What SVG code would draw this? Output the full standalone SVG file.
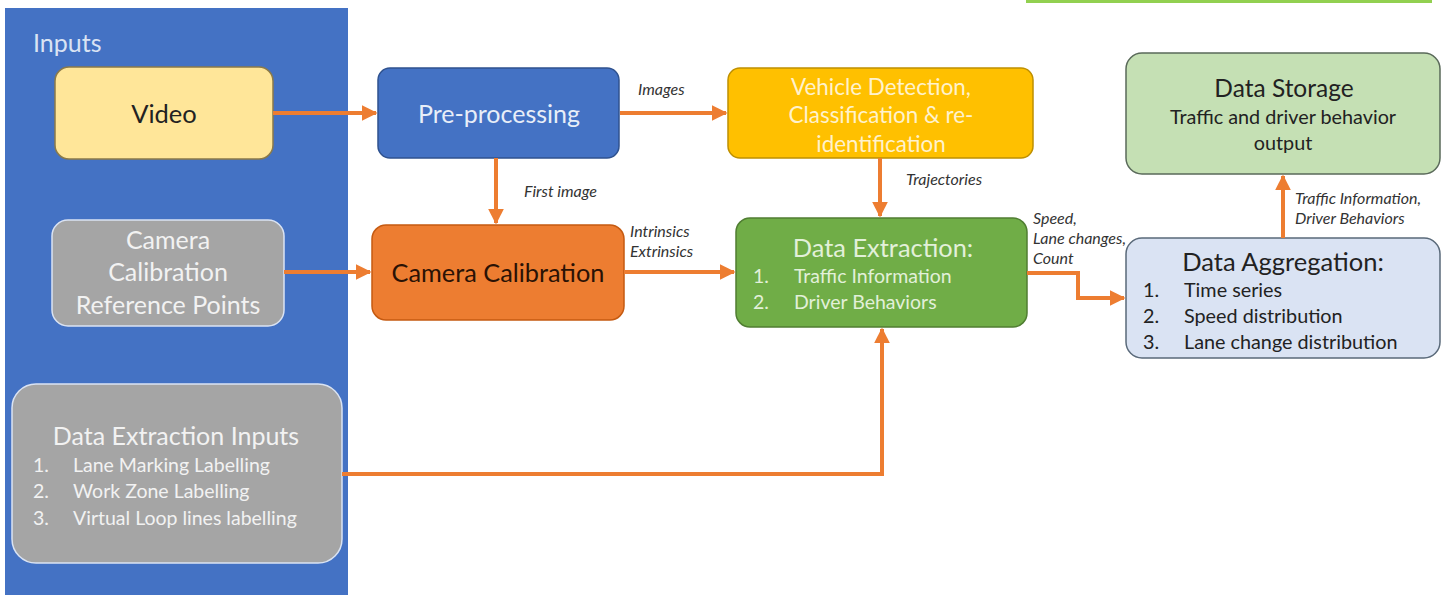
<svg xmlns="http://www.w3.org/2000/svg" width="1444" height="595" viewBox="0 0 1444 595">
<style>
text{font-family:Lato,"Liberation Sans",sans-serif}
.box{stroke-width:1.5}
.lbl{font-style:italic;font-size:16px;fill:#333}
.conn{stroke:#ed7d31;stroke-width:4;fill:none}
</style>
<defs>
<marker id="ah" viewBox="0 0 10 10" refX="9" refY="5" markerWidth="4" markerHeight="4" orient="auto" markerUnits="strokeWidth">
<path d="M0,0 L10,5 L0,10 z" fill="#ed7d31"/>
</marker>
</defs>
<rect width="1444" height="595" fill="#ffffff"/>
<rect x="1026" y="0" width="406" height="3" fill="#92d050"/>
<g id="inputs-panel">
<rect x="5" y="8" width="343" height="590" fill="#4472c4"/>
<text x="33" y="52" font-size="25" fill="#dae3f3">Inputs</text>
</g>
<g id="video">
<rect class="box" x="55" y="67" width="218" height="92" rx="14" fill="#ffe699" stroke="#8a7a4a"/>
<text x="164" y="123" font-size="25.5" fill="#222" text-anchor="middle">Video</text>
</g>
<g id="cam-ref">
<rect class="box" x="52" y="220" width="232" height="106" rx="16" fill="#a5a5a5" stroke="#dae3f3"/>
<text x="168" y="249" font-size="25" fill="#f2f2f2" text-anchor="middle">Camera</text>
<text x="168" y="281" font-size="25" fill="#f2f2f2" text-anchor="middle">Calibration</text>
<text x="168" y="314" font-size="25" fill="#f2f2f2" text-anchor="middle">Reference Points</text>
</g>
<g id="de-inputs">
<rect class="box" x="12" y="384" width="330" height="179" rx="24" fill="#a5a5a5" stroke="#dae3f3"/>
<text x="176" y="445" font-size="25" fill="#f2f2f2" text-anchor="middle">Data Extraction Inputs</text>
<g font-size="19.5" fill="#f2f2f2">
<text x="33" y="472">1.</text><text x="73" y="472">Lane Marking Labelling</text>
<text x="33" y="498">2.</text><text x="73" y="498">Work Zone Labelling</text>
<text x="33" y="525">3.</text><text x="73" y="525">Virtual Loop lines labelling</text>
</g>
</g>
<g id="preprocessing">
<rect class="box" x="378" y="68" width="241" height="90" rx="12" fill="#4472c4" stroke="#2f528f"/>
<text x="499" y="123" font-size="25" fill="#e8eef8" text-anchor="middle">Pre-processing</text>
</g>
<g id="camera-calibration">
<rect class="box" x="372" y="225" width="252" height="95" rx="14" fill="#ed7d31" stroke="#c55a11"/>
<text x="498" y="282" font-size="25.3" fill="#2a1205" text-anchor="middle">Camera Calibration</text>
</g>
<g id="vehicle-detection">
<rect class="box" x="728" y="68" width="305" height="90" rx="12" fill="#ffc000" stroke="#bf9000"/>
<g font-size="22.4" fill="#fff2cc" text-anchor="middle">
<text x="881" y="95">Vehicle Detection,</text>
<text x="881" y="123">Classification &amp; re-</text>
<text x="881" y="152">identification</text>
</g>
</g>
<g id="data-extraction">
<rect class="box" x="736" y="218" width="291" height="109" rx="14" fill="#70ad47" stroke="#507e32"/>
<text x="883" y="257" font-size="25.4" fill="#e2f0d9" text-anchor="middle">Data Extraction:</text>
<g font-size="19.5" fill="#e2f0d9">
<text x="753" y="283">1.</text><text x="794" y="283">Traffic Information</text>
<text x="753" y="309">2.</text><text x="794" y="309">Driver Behaviors</text>
</g>
</g>
<g id="data-storage">
<rect class="box" x="1126" y="53" width="314" height="121" rx="16" fill="#c5e0b4" stroke="#5a6a5a"/>
<text x="1284" y="97" font-size="24.5" fill="#222" text-anchor="middle">Data Storage</text>
<text x="1283" y="124" font-size="19.8" fill="#222" text-anchor="middle">Traffic and driver behavior</text>
<text x="1283" y="150" font-size="19.8" fill="#222" text-anchor="middle">output</text>
</g>
<g id="data-aggregation">
<rect class="box" x="1126" y="238" width="314" height="120" rx="16" fill="#dae3f3" stroke="#5a6a7a"/>
<text x="1283" y="271" font-size="25.5" fill="#222" text-anchor="middle">Data Aggregation:</text>
<g font-size="19.8" fill="#222">
<text x="1143" y="297">1.</text><text x="1184" y="297">Time series</text>
<text x="1143" y="323">2.</text><text x="1184" y="323">Speed distribution</text>
<text x="1143" y="349">3.</text><text x="1184" y="349">Lane change distribution</text>
</g>
</g>
<g id="connectors">
<path class="conn" d="M273,113 H376" marker-end="url(#ah)"/>
<path class="conn" d="M620,113 H726" marker-end="url(#ah)"/>
<path class="conn" d="M496,158 V223" marker-end="url(#ah)"/>
<path class="conn" d="M284,272 H370" marker-end="url(#ah)"/>
<path class="conn" d="M624,272 H734" marker-end="url(#ah)"/>
<path class="conn" d="M880,158 V216" marker-end="url(#ah)"/>
<path class="conn" d="M342,474 H882 V329" marker-end="url(#ah)"/>
<path class="conn" d="M1027,273 H1078 V298 H1124" stroke-width="5" marker-end="url(#ah)"/>
<path class="conn" d="M1283,238 V176" marker-end="url(#ah)"/>
<text class="lbl" x="638" y="95">Images</text>
<text class="lbl" x="524" y="197">First image</text>
<text class="lbl" x="630" y="237">Intrinsics</text>
<text class="lbl" x="630" y="257">Extrinsics</text>
<text class="lbl" x="906" y="185">Trajectories</text>
<text class="lbl" x="1033" y="224">Speed,</text>
<text class="lbl" x="1033" y="244">Lane changes,</text>
<text class="lbl" x="1033" y="264">Count</text>
<text class="lbl" x="1295" y="204">Traffic Information,</text>
<text class="lbl" x="1295" y="224">Driver Behaviors</text>
</g>
</svg>
